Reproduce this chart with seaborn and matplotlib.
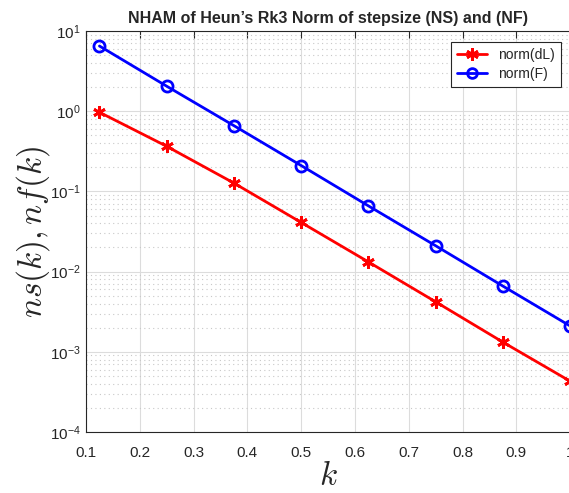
import numpy as np
import pandas as pd
import matplotlib
matplotlib.use("Agg")
import matplotlib.pyplot as plt
import seaborn as sns
from matplotlib.lines import Line2D

k = [0.125, 0.25, 0.375, 0.5, 0.625, 0.75, 0.875, 1.0]
norm_dL = [0.97, 0.365, 0.127, 0.041, 0.0132, 0.0042, 0.00132, 0.00043]
norm_F = [6.5, 2.05, 0.66, 0.21, 0.066, 0.021, 0.0066, 0.0021]

sns.set_style("white")
plt.rcParams['font.family'] = ['Liberation Sans', 'DejaVu Sans']
plt.rcParams['mathtext.fontset'] = 'cm'

fig = plt.figure(figsize=(5.69, 4.93), dpi=100)
ax = fig.add_axes([86/569, 61/493, (569-86)/569 + 0.002, 401/493])

sns.lineplot(x=k, y=norm_dL, color='#ff0000', marker=(6, 2, 0), linewidth=2,
             markersize=9, markeredgewidth=2, markeredgecolor='#ff0000', ax=ax)
sns.lineplot(x=k, y=norm_F, color='#0000ff', marker='o', linewidth=2,
             markersize=8, markeredgewidth=2, markerfacecolor='none',
             markeredgecolor='#0000ff', ax=ax)

ax.set_yscale('log')
ax.set_ylim(1e-4, 1e1)
ax.set_xlim(0.1, 1.0)
ax.set_xticks(np.arange(0.1, 1.01, 0.1))
ax.set_xticklabels(['0.1', '0.2', '0.3', '0.4', '0.5', '0.6', '0.7', '0.8', '0.9', '1'])

ax.grid(True, which='major', color='#dcdcdc', linewidth=0.8, linestyle='-')
ax.grid(True, which='minor', axis='y', color='#c8c8c8', linewidth=0.8, linestyle=(0, (1, 3)))
ax.set_axisbelow(True)

ax.tick_params(which='both', direction='in', top=True, right=False, labelsize=11, colors='#262626')
ax.tick_params(which='major', length=5)
ax.tick_params(which='minor', length=3)
ax.tick_params(axis='x', which='major', pad=10)
ax.tick_params(axis='y', which='major', pad=4)
for s in ['left', 'bottom', 'top']:
    ax.spines[s].set_color('#262626')
    ax.spines[s].set_linewidth(0.8)
ax.spines['right'].set_visible(False)

ax.set_title("NHAM of Heun\u2019s Rk3 Norm of stepsize (NS) and (NF)",
             fontsize=11.5, fontweight='bold', pad=6)
ax.set_xlabel(r"$k$", fontsize=24, labelpad=1)
ax.set_ylabel(r"$ns(k), nf(k)$", fontsize=24, labelpad=-2)

handles = [Line2D([], [], color='#ff0000', lw=2, marker=(6, 2, 0), markersize=9, markeredgewidth=2),
           Line2D([], [], color='#0000ff', lw=2, marker='o', markersize=7, markerfacecolor='none', markeredgewidth=2)]
leg = ax.legend(handles, ['norm(dL)', 'norm(F)'], loc='upper right', fontsize=10,
                fancybox=False, framealpha=1, edgecolor='#262626',
                bbox_to_anchor=(0.995, 0.99), handlelength=2.2, borderpad=0.4, labelspacing=0.4)
leg.get_frame().set_linewidth(0.8)

fig.savefig("out.png", dpi=100)
